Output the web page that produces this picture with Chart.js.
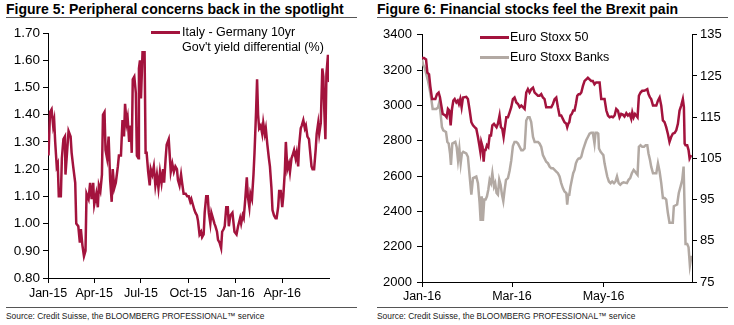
<!DOCTYPE html>
<html>
<head>
<meta charset="utf-8">
<script src="https://cdn.jsdelivr.net/npm/chart.js"></script>
<style>
  body { margin: 0; background: #fff; font-family: "Liberation Sans", Arial, sans-serif; }
  #page { position: relative; width: 734px; height: 325px; overflow: hidden; }
  .title { position: absolute; top: 1px; font-weight: bold; font-size: 14px; white-space: nowrap; color: #000; }
  .rule { position: absolute; height: 1px; background: #555; }
  .source { position: absolute; top: 311px; font-size: 8.4px; white-space: nowrap; color: #222; }
  .legend { position: absolute; font-size: 12.5px; line-height: 14.5px; color: #000; white-space: nowrap; }
  .swatch { position: absolute; width: 29px; height: 3px; }
  canvas { position: absolute; }
</style>
</head>
<body>
<div id="page">
  <div class="title" style="left:6px">Figure 5: Peripheral concerns back in the spotlight</div>
  <div class="rule" style="left:6px; width:351px; top:17px"></div>
  <div class="title" style="left:377px">Figure 6: Financial stocks feel the Brexit pain</div>
  <div class="rule" style="left:377px; width:351px; top:17px"></div>

  <canvas id="left" width="340" height="285" style="left:0; top:22px"></canvas>
  <canvas id="right" width="364" height="285" style="left:370px; top:22px"></canvas>

  <div class="swatch" style="left:151px; top:31px; background:#A3133D"></div>
  <div class="legend" style="left:182px; top:25px">Italy - Germany 10yr<br>Gov't yield differential (%)</div>

  <div class="swatch" style="left:480px; top:36px; background:#A3133D"></div>
  <div class="legend" style="left:510px; top:30px">Euro Stoxx 50</div>
  <div class="swatch" style="left:480px; top:56px; background:#B2A9A3"></div>
  <div class="legend" style="left:510px; top:50px">Euro Stoxx Banks</div>

  <div class="rule" style="left:6px; width:351px; top:307px"></div>
  <div class="source" style="left:6px">Source: Credit Suisse, the BLOOMBERG PROFESSIONAL™ service</div>
  <div class="rule" style="left:377px; width:351px; top:307px"></div>
  <div class="source" style="left:377px">Source: Credit Suisse, the BLOOMBERG PROFESSIONAL™ service</div>
</div>
<script>
// Figure 5 - days since 1 Jan 2015, spread in %
const spreadDay = [1,4,7,10,12,14,17,19,21,25,27,30,33,34,37,40,44,46,49,53,55,59,62,64,67,70,73,75,79,82,85,88,90,94,97,99,102,105,107,110,112,115,118,121,124,126,129,132,136,138,142,145,148,150,153,155,158,161,163,165,168,171,173,176,177,179,181,184,188,190,192,195,198,200,203,206,209,212,215,218,221,224,226,229,231,235,237,239,242,245,248,251,253,256,259,261,264,268,271,274,277,279,282,285,287,290,292,295,298,300,303,305,308,311,313,316,318,321,324,326,329,331,334,337,339,342,344,347,350,352,355,359,363,367,370,374,376,379,381,384,387,389,392,394,397,400,402,405,407,409,411,414,417,419,422,424,427,430,432,435,437,440,443,445,448,450,453,456,458,461,463,466,469,471,474,476,479,482,484,487,489,492,494,497,500,502,505,508,510,513,515,518,521,523,526,528,531,534,536,538,540,542,545,547];
const spreadValue = [1.25,1.41,1.42,1.36,1.38,1.30,1.21,1.22,1.10,1.10,1.24,1.31,1.32,1.18,1.26,1.34,1.32,1.26,1.21,1.15,1.00,0.99,0.93,0.98,0.92,0.88,0.90,1.11,1.09,1.15,1.09,1.15,1.07,1.11,1.06,1.14,1.12,1.18,1.40,1.41,1.27,1.24,1.32,1.16,1.08,1.20,1.13,1.15,1.21,1.25,1.25,1.38,1.32,1.44,1.37,1.39,1.30,1.36,1.26,1.53,1.54,1.48,1.25,1.24,1.57,1.60,1.46,1.63,1.63,1.26,1.26,1.19,1.14,1.20,1.18,1.21,1.14,1.18,1.13,1.19,1.15,1.20,1.15,1.24,1.29,1.31,1.25,1.19,1.22,1.19,1.21,1.20,1.16,1.14,1.18,1.15,1.11,1.11,1.10,1.10,1.08,1.09,1.07,1.05,1.04,1.03,1.01,0.96,0.97,0.95,0.96,1.04,1.10,1.10,1.04,1.00,1.04,1.02,1.00,0.99,0.97,0.94,0.93,0.91,0.97,0.98,0.99,1.06,1.06,0.99,1.03,1.04,0.97,0.96,0.99,1.02,1.00,1.03,1.02,1.09,1.17,1.10,1.06,1.11,1.09,1.18,1.26,1.41,1.53,1.40,1.35,1.36,1.33,1.37,1.33,1.35,1.29,1.24,1.21,1.13,1.05,1.03,1.02,1.02,1.06,1.12,1.12,1.06,1.10,1.19,1.30,1.20,1.22,1.19,1.24,1.25,1.27,1.24,1.26,1.21,1.29,1.35,1.36,1.38,1.35,1.36,1.32,1.31,1.27,1.21,1.20,1.20,1.27,1.33,1.37,1.33,1.37,1.57,1.54,1.41,1.31,1.55,1.62,1.52];
const spreadTickDay = [0, 90, 181, 273, 365, 456];
const spreadTickLabel = ['Jan-15', 'Apr-15', 'Jul-15', 'Oct-15', 'Jan-16', 'Apr-16'];

// Figure 6 - days since 1 Jan 2016
const stoxxDay = [0,1.3,2.7,3.6,4.7,5.5,6.7,8.9,10,11.1,12,12.9,13.8,15.5,16.4,17.3,18.2,19.1,20,20.9,21.8,22.9,23.8,24.6,25.5,26.4,27.3,29.5,30.6,31.8,32.9,34,35.1,36.2,37.3,38.2,38.9,39.5,40.4,41.1,41.7,42.4,43.3,44.2,45.1,46,46.9,48,48.8,49.7,50.6,51.7,52.6,53.5,54.4,55.3,56.2,57.3,58.4,59.5,60.6,61.7,62.9,64,65.1,66.2,67.3,68.4,69.5,70.6,71.7,72.8,74,75.1,76.2,77.3,78.4,79.5,80.6,81.7,82.8,86.2,87.3,88.4,89.5,90.6,91.7,92.8,93.9,95,96.2,96.8,97.5,98.2,99,99.9,100.8,101.7,102.6,103.5,104.4,105.3,106.2,107.3,108.4,109.5,110.6,111.7,112.8,113.9,115,116.1,117.3,118.4,119.5,120.6,121.7,122.9,124,125.1,126.2,127.3,128.4,129.5,130.6,131.7,132.8,133.9,135,136.2,137.3,138.4,139.5,140.2,141.1,142,142.8,143.7,144.6,145.7,146.8,148,149.1,150.2,151,152,152.8,154,156.2,157.3,158.4,159.5,160.6,161.7,162.8,163.9,165,166.1,167.2,168.4,169.5,170.6,171.7,172.8,173.9,174.6,175.1,175.7,176.8,177.7,178.4,179.5];
const stoxxValue = [3269,3269,3260,3185,3176,3111,3036,3036,3064,3073,3045,2999,2952,2943,2933,2980,2971,2887,2980,3027,3036,3017,3027,3008,3036,2990,3045,3049,3036,2971,2905,2887,2877,2868,2821,2775,2737,2793,2765,2681,2747,2747,2775,2765,2830,2830,2887,2896,2887,2877,2896,2943,2877,2868,2821,2877,2933,2933,2961,2990,3036,3045,3017,3008,2990,2999,2990,2980,3073,3092,3073,3092,3101,3073,3064,3055,3055,3064,3045,3036,2990,2990,3008,3036,3045,2990,2943,2943,2924,2905,2896,2877,2896,2905,2943,2952,2971,2971,3008,3055,3064,3064,3073,3111,3139,3148,3157,3148,3139,3139,3120,3130,3130,3130,3036,3036,3036,2971,2943,2933,2937,2933,2943,2980,2971,2933,2952,2948,2937,2956,2943,2952,2924,2961,2933,2952,2943,2933,3055,3073,3083,3083,3087,3092,3064,3045,3036,2999,2999,3027,3045,2999,2915,2905,2877,2840,2793,2821,2840,2844,2859,2896,2971,2999,3036,2990,2784,2775,2775,2747,2700,2719];
const banksDay = [0,0.7,1.8,2.9,4,5.1,6.2,7.1,9.5,10.7,11.5,12.4,13.3,14.2,16,16.9,17.8,18.7,19.3,20.2,22.2,23.1,24,24.9,25.8,26.6,27.5,29.5,30.6,31.8,32.9,34,36.2,37.3,38.4,39.1,39.8,40.6,41.5,42.4,43.3,44.2,45.1,46,46.9,48,48.8,49.7,50.6,51.5,52.4,53.3,54.2,55.1,56,57.3,58.4,59.5,60.6,61.7,62.9,64,65.1,66.2,67.3,68.4,69.5,70.6,71.7,72.8,74,75.1,77.3,78.4,79.5,80.6,81.7,82.8,84,85.1,86.2,87.3,88.4,89.5,90.6,91.7,92.8,93.9,95,96.2,96.8,97.5,98.2,99,99.9,100.8,101.7,102.6,103.5,104.4,105.3,106.2,107.3,108.4,109.5,110.6,111.7,112.8,113.9,115,115.7,116.8,117.5,118,119.1,120,120.9,121.7,122.6,123.5,124.6,125.7,126.8,128,129,130,131.1,132.2,133.3,134.4,136.6,137.7,138.8,139.9,141.1,142,142.8,143.7,144.6,145.7,146.8,148,149.1,150.2,151,152,152.8,154,156.2,157.3,158.4,159.5,160.6,161.7,162.8,163.9,165,167.2,167.9,170.1,171.2,172.4,173.5,174.4,175.1,175.7,176.8,177.7,178.6,179.7];
const banksValue = [129,127.8,127,125.4,123.8,121.8,119.4,117,117,117.4,118.6,115.8,112.6,111.8,111.4,109,108.6,106.2,103.4,108.6,109,107.8,104.6,107.4,103.8,106.2,106.6,106.2,105.4,100.6,96.2,100.2,100.6,99,94.2,89.8,95.8,89.8,95,95,95.8,97.4,99.8,99,101.4,98.2,99,96.6,96.2,99.8,98.6,96.2,94.6,97.4,99.8,100.2,102,104.5,108,109,109,108.6,107.8,107,107,107.4,114.2,115,115,113.8,110.2,109,109,108.6,107.8,105.8,105,104.2,103.8,103,102.6,102.6,102.2,101.8,101.4,100.6,99,97.8,97,96.6,93.8,96.2,96.2,98.2,99.8,101.4,102.2,103.8,104.6,105,105,105.4,107,108.2,109.4,110.2,111,111.2,111.2,108.6,111.2,111.2,111,107.4,106.6,106.2,105.8,103.8,102.2,100.6,99.4,99,99.4,99,99.4,100.6,99,98.6,99,99.2,99,99.8,100.2,101.4,102.2,101.8,101.4,101,107.8,108.2,107.8,107.8,108.2,108.2,106.2,104.6,103,101.4,101.4,103.8,101.8,99,95.4,95.4,95,91.8,89.4,89.4,93.4,93.8,96.6,98.2,99.8,103,92.6,84.2,84.2,83.4,79,81.4];
const stoxxTickDay = [0, 60, 121];
const stoxxTickLabel = ['Jan-16', 'Mar-16', 'May-16'];

const RED = '#A3133D';
const GREY = '#B2A9A3';
const FONT = { family: '"Liberation Sans", Arial, sans-serif', size: 13 };
const XFONT = { family: '"Liberation Sans", Arial, sans-serif', size: 12.5 };

function toPoints(xs, ys) {
  return xs.map((x, i) => ({ x: x, y: ys[i] }));
}

function axisStyle(extra) {
  return Object.assign({
    grid: { display: true, drawOnChartArea: false, drawTicks: true, tickLength: 5, color: '#000' },
    border: { display: true, color: '#000', width: 1 }
  }, extra);
}

const common = {
  responsive: false,
  animation: false,
  plugins: { legend: { display: false }, tooltip: { enabled: false } },
  elements: { point: { radius: 0 }, line: { tension: 0 } }
};

new Chart(document.getElementById('left'), {
  type: 'line',
  data: {
    datasets: [{
      data: toPoints(spreadDay, spreadValue),
      borderColor: RED,
      borderWidth: 2.5
    }]
  },
  options: Object.assign({}, common, {
    layout: { padding: { top: 10, right: 11, left: 0, bottom: 0 } },
    scales: {
      x: axisStyle({
        type: 'linear', min: 0, max: 547,
        afterBuildTicks: (scale) => { scale.ticks = spreadTickDay.map(v => ({ value: v })); },
        afterFit: (scale) => { scale.height = 29; },
        ticks: { color: '#000', font: XFONT, padding: 3, autoSkip: false, maxRotation: 0,
          callback: (v) => spreadTickLabel[spreadTickDay.indexOf(v)] }
      }),
      y: axisStyle({
        min: 0.8, max: 1.7,
        afterFit: (scale) => { scale.width = 48; },
        ticks: { color: '#000', font: { family: FONT.family, size: 13.5 }, padding: 3, stepSize: 0.1,
          callback: (v) => v.toFixed(2) }
      })
    }
  })
});

new Chart(document.getElementById('right'), {
  type: 'line',
  data: {
    datasets: [{
      data: toPoints(stoxxDay, stoxxValue),
      borderColor: RED,
      borderWidth: 2.5,
      yAxisID: 'y'
    }, {
      data: toPoints(banksDay, banksValue),
      borderColor: GREY,
      borderWidth: 2.5,
      yAxisID: 'y1'
    }]
  },
  options: Object.assign({}, common, {
    layout: { padding: { top: 10, right: 0, left: 0, bottom: 0 } },
    scales: {
      x: axisStyle({
        type: 'linear', min: 0, max: 180,
        afterBuildTicks: (scale) => { scale.ticks = stoxxTickDay.map(v => ({ value: v })); },
        afterFit: (scale) => { scale.height = 25; },
        ticks: { color: '#000', font: XFONT, padding: 2, autoSkip: false, maxRotation: 0,
          callback: (v) => stoxxTickLabel[stoxxTickDay.indexOf(v)] }
      }),
      y: axisStyle({
        position: 'left', min: 2000, max: 3400,
        afterFit: (scale) => { scale.width = 52; },
        ticks: { color: '#000', font: FONT, padding: 5, stepSize: 200, callback: (v) => String(v) }
      }),
      y1: axisStyle({
        position: 'right', min: 75, max: 135,
        afterFit: (scale) => { scale.width = 42; },
        ticks: { color: '#000', font: FONT, padding: 3, stepSize: 10, callback: (v) => String(v) }
      })
    }
  })
});
</script>
</body>
</html>
